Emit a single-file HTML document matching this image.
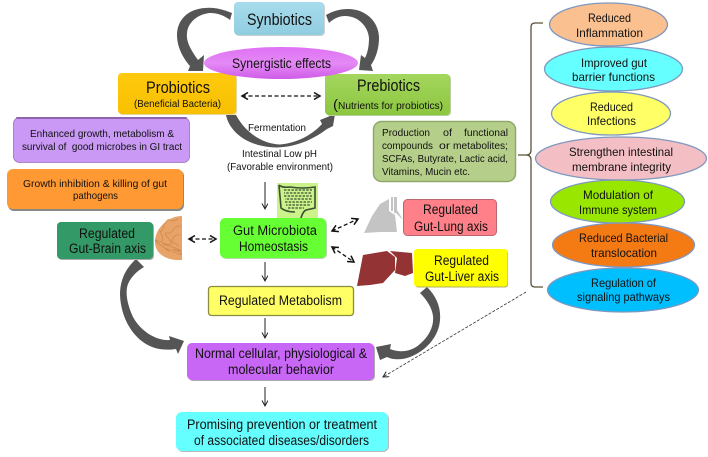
<!DOCTYPE html>
<html><head><meta charset="utf-8"><style>
html,body{margin:0;padding:0;background:#fff;width:708px;height:457px;overflow:hidden}
svg{display:block;filter:blur(.3px)}
text{font-family:"Liberation Sans",sans-serif;fill:#111}
</style></head><body>
<svg width="708" height="457" viewBox="0 0 708 457" xmlns="http://www.w3.org/2000/svg">
<defs>
<linearGradient id="gb" x1="0" y1="0" x2="0" y2="1"><stop offset="0" stop-color="#a8dcec"/><stop offset="1" stop-color="#8fcde0"/></linearGradient>
<linearGradient id="gy" x1="0" y1="0" x2="0" y2="1"><stop offset="0" stop-color="#ffc90e"/><stop offset="1" stop-color="#f7c000"/></linearGradient>
<linearGradient id="gg" x1="0" y1="0" x2="0" y2="1"><stop offset="0" stop-color="#a4d65e"/><stop offset="1" stop-color="#8cc63f"/></linearGradient>
<linearGradient id="gp" x1="0" y1="0" x2="0" y2="1"><stop offset="0" stop-color="#e070f5"/><stop offset=".5" stop-color="#e48af5"/><stop offset="1" stop-color="#cf5ce8"/></linearGradient>
<marker id="t" markerWidth="8" markerHeight="8" refX="6" refY="3" orient="auto-start-reverse" markerUnits="userSpaceOnUse"><path d="M0.500 0 L6 3 L.5 6" fill="none" stroke="#222" stroke-width="1"/></marker>
<marker id="d" markerWidth="9" markerHeight="9" refX="7" refY="4" orient="auto-start-reverse" markerUnits="userSpaceOnUse"><path d="M1 .5 L7 4 L1 7.500" fill="none" stroke="#111" stroke-width="1.500"/></marker>
</defs>

<!-- thick curved arrows -->
<g fill="#555">
<path d="M232 13 C222 9 213 7 205 8 C188 9 177 20 177 35 C177 47 183 58 190 66 L188 71 L203 71 L204 55 L198 60 C191 50 186 42 187 33 C188 22 198 14 210 13 C218 13 225 16 230 20 Z"/>
<path d="M326 15 C333 11 340 9 348 9 C366 9 379 22 379 38 C379 48 376 58 371 65 L373 71 L359 70 L361 55 L365 58 C368 52 369 45 369 38 C368 26 358 16 345 16 C339 16 333 19 329 23 Z"/>
<path d="M226 115 C229 130 245 147 277 147.500 C298 147 315 138 327 129 L333 126 L335 114 L320 120 L322 124 C312 135 297 143 280 144.500 C262 144 245 132 236 115 Z"/>
<path d="M136 259 C124 270 120 282 120 295 C121 320 135 342 155 348 C162 350 170 350 176 349 L178 354 L184 341 L169 336 L170 340 C155 341 140 330 133 317 C127 304 125 292 128 284 C131 277 137 271 144 267 Z"/>
<path d="M427 287 C437 297 441 308 440 320 C439 335 428 350 410 357 C402 360 393 360 387 357 L380 360 L376 347 L391 344 L390 349 C400 353 412 352 421 343 C430 335 434 325 433 316 C432 308 427 300 420 293 Z"/>
</g>

<!-- top boxes -->
<rect x="235" y="3" width="90" height="33" rx="4" fill="#aaa" opacity=".55"/>
<rect x="234" y="2" width="90" height="33" rx="4" fill="url(#gb)"/>
<rect x="119" y="74" width="118" height="41" rx="4" fill="#e0d8a0"/>
<rect x="118" y="73" width="118" height="41" rx="4" fill="url(#gy)"/>
<rect x="326" y="75" width="125" height="41" rx="4" fill="#b9cfa0"/>
<rect x="325" y="74" width="125" height="41" rx="4" fill="url(#gg)"/>
<ellipse cx="281" cy="63" rx="77" ry="16" fill="url(#gp)"/>

<rect x="13.500" y="117.500" width="176" height="45" rx="6" fill="#c999f5" stroke="#9a72bb" stroke-width=".8"/>
<rect x="16" y="117" width="171" height="2" rx="1" fill="#8d64ad"/>
<rect x="8" y="170" width="176" height="41" rx="6" fill="#888"/>
<rect x="7" y="169" width="176" height="40" rx="6" fill="#ff9933"/>
<rect x="373.500" y="121.500" width="142" height="60" rx="8" fill="#b5cf8a" stroke="#8fa96a" stroke-width="1.500"/>

<!-- gut image -->
<rect x="277" y="183" width="41" height="39" fill="#ccf28c"/>
<g fill="none" stroke="#3a5030">
<path d="M279 185 Q282 188 290 187 Q303 189 315 187 L315 208 L306 210 Q302 212 300 222 M279 185 L281 208 Q286 212 295 212" stroke-width="1.600"/>
<g stroke-width="1.300" stroke-dasharray="2.500 1.200">
<path d="M284 190 H312"/><path d="M284 193 H312" stroke-dashoffset="1.500"/><path d="M284 196 H312"/><path d="M285 199 H312" stroke-dashoffset="2"/><path d="M285 202 H312"/><path d="M286 205 H311" stroke-dashoffset="1"/><path d="M288 208 H304"/>
</g>
</g>

<!-- mid boxes -->
<rect x="221" y="219" width="106" height="40" rx="5" fill="#b5d8a8"/>
<rect x="220" y="218" width="106" height="40" rx="5" fill="#66ff33"/>
<rect x="58" y="223" width="96" height="37" rx="4" fill="#aaa"/>
<rect x="57" y="222" width="96" height="37" rx="4" fill="#339966"/>
<path d="M182 216 C168 216 156 228 155 240 C154 252 164 261 182 260 Z" fill="#e8a468"/>
<g fill="none" stroke="#cf8a50" stroke-width=".8"><path d="M178 219 q-5 3 -8 1 t-6 6 t-4 5 t2 5 t-4 5 t4 5 t5 4 t7 2 t4 -2 M181 226 q-6 0 -8 4 t-6 3 t2 6 t-3 5 t6 3 t5 3 t4 2 M180 235 q-5 -1 -7 3 t1 5 t5 3"/></g>

<rect x="208.500" y="286.500" width="145" height="29" rx="3" fill="#ffff66" stroke="#8c8c40" stroke-width="1.300"/>
<rect x="403.500" y="199.500" width="93" height="36" rx="4" fill="#ff8088" stroke="#bb6670" stroke-width="1"/>
<rect x="415" y="250" width="93" height="37.500" rx="3" fill="#b0b060"/>
<rect x="414" y="249" width="93.500" height="37.500" rx="3" fill="#ffff00"/>
<rect x="188" y="344" width="187" height="37" rx="5" fill="#aaa"/>
<rect x="187" y="343" width="187" height="37" rx="5" fill="#c866f5"/>
<rect x="177" y="413" width="212" height="39" rx="6" fill="#bbb"/>
<rect x="176" y="412" width="212" height="39" rx="6" fill="#66ffff"/>

<!-- organs -->
<g fill="#c4c4c4">
<path d="M364 233 L372 216 L380 204 L389 199 L389 211 L395 215 L397 232 L380 232 Z"/>
<path d="M391 197 h2 v14 h-2 Z M394 197 h3 v13 l5 8 v1 l-6 -6 h-2 Z"/>
</g>
<path d="M357 286 L363 255 L387 251 L395 257 L395 270 L383 283 L370 285 Z" fill="#933333"/>
<path d="M390 251 L412 253 L413 273 L405 276 L395 273 L397 258 Z" fill="#933333"/>

<!-- ellipses -->
<g stroke="#7f98bf" stroke-width="1.300">
<ellipse cx="608.500" cy="24.500" rx="59" ry="21.500" fill="#fac090"/>
<ellipse cx="613.500" cy="69" rx="69" ry="22" fill="#66ffff"/>
<ellipse cx="611" cy="113.500" rx="59.500" ry="21.500" fill="#ffff66"/>
<ellipse cx="621" cy="158.500" rx="85.500" ry="21.500" fill="#f4bfc4"/>
<ellipse cx="617.500" cy="201.500" rx="67" ry="21.500" fill="#99e600"/>
<ellipse cx="623.500" cy="245" rx="71" ry="22" fill="#f47a14"/>
<ellipse cx="623" cy="290" rx="75.500" ry="22" fill="#00bfff"/>
</g>

<!-- bracket -->
<path d="M543 23 H535 Q531 23 531 27 V150 Q531 155 526 155 H518 M526 155 Q531 155 531 160 V283 Q531 287 535 287 H543" fill="none" stroke="#5a5238" stroke-width="1.300"/>

<!-- thin arrows -->
<g stroke="#222" stroke-width="1" fill="none">
<path d="M265 182 V209" marker-end="url(#t)"/>
<path d="M265 262 V281" marker-end="url(#t)"/>
<path d="M265 318 V338" marker-end="url(#t)"/>
<path d="M265 387 V406" marker-end="url(#t)"/>
</g>
<path d="M526 292 L383 377" stroke="#333" stroke-width=".8" stroke-dasharray="3 1.500" fill="none" marker-end="url(#t)"/>
<g stroke="#111" stroke-width="1.300" stroke-dasharray="4 2.500" fill="none">
<path d="M242 96 H320" marker-start="url(#d)" marker-end="url(#d)"/>
<path d="M189 239 H216" marker-start="url(#d)" marker-end="url(#d)"/>
<path d="M332 231 L358 219" marker-start="url(#d)" marker-end="url(#d)"/>
<path d="M332 247 L354 262" marker-start="url(#d)" marker-end="url(#d)"/>
</g>

<!-- text -->
<g>
<text x="247" y="25" font-size="17" textLength="65" lengthAdjust="spacingAndGlyphs">Synbiotics</text>
<text x="232" y="68" font-size="13.500" textLength="99" lengthAdjust="spacingAndGlyphs">Synergistic effects</text>
<text x="146" y="93" font-size="17" textLength="64" lengthAdjust="spacingAndGlyphs">Probiotics</text>
<text x="134" y="107" font-size="10.500" textLength="87" lengthAdjust="spacingAndGlyphs">(Beneficial Bacteria)</text>
<text x="357" y="91" font-size="17" textLength="63" lengthAdjust="spacingAndGlyphs">Prebiotics</text>
<text x="333" y="109" font-size="14" textLength="5" lengthAdjust="spacingAndGlyphs">(</text>
<text x="338" y="109" font-size="10.500" textLength="105" lengthAdjust="spacingAndGlyphs">Nutrients for probiotics)</text>
<text x="248" y="131" font-size="10.500" textLength="58" lengthAdjust="spacingAndGlyphs">Fermentation</text>
<text x="242" y="157" font-size="10.500" textLength="75" lengthAdjust="spacingAndGlyphs">Intestinal Low pH</text>
<text x="227" y="170" font-size="10.500" textLength="106" lengthAdjust="spacingAndGlyphs">(Favorable environment)</text>
<text x="30" y="137" font-size="10.500" textLength="144" lengthAdjust="spacingAndGlyphs">Enhanced growth, metabolism &amp;</text>
<text x="22" y="150" font-size="10.500" textLength="160" lengthAdjust="spacingAndGlyphs" xml:space="preserve">survival of  good microbes in GI tract</text>
<text x="23" y="187" font-size="10.500" textLength="144" lengthAdjust="spacingAndGlyphs">Growth inhibition &amp; killing of gut</text>
<text x="73" y="199" font-size="10.500" textLength="45" lengthAdjust="spacingAndGlyphs">pathogens</text>
<text x="79" y="238" font-size="13.500" textLength="56" lengthAdjust="spacingAndGlyphs">Regulated</text>
<text x="69" y="253" font-size="13.500" textLength="77" lengthAdjust="spacingAndGlyphs">Gut-Brain axis</text>
<text x="233" y="235" font-size="13.500" textLength="84" lengthAdjust="spacingAndGlyphs">Gut Microbiota</text>
<text x="239" y="251" font-size="13.500" textLength="69" lengthAdjust="spacingAndGlyphs">Homeostasis</text>
<text x="219" y="305" font-size="13.500" textLength="123" lengthAdjust="spacingAndGlyphs">Regulated Metabolism</text>
<text x="195" y="358" font-size="13.500" textLength="172" lengthAdjust="spacingAndGlyphs">Normal cellular, physiological &amp;</text>
<text x="228" y="374" font-size="13.500" textLength="106" lengthAdjust="spacingAndGlyphs">molecular behavior</text>
<text x="187" y="429" font-size="13.500" textLength="190" lengthAdjust="spacingAndGlyphs">Promising prevention or treatment</text>
<text x="194" y="445" font-size="13.500" textLength="175" lengthAdjust="spacingAndGlyphs">of associated diseases/disorders</text>
<g font-size="10.500">
<text x="382" y="136" textLength="48" lengthAdjust="spacingAndGlyphs">Production</text>
<text x="443" y="136" textLength="9" lengthAdjust="spacingAndGlyphs">of</text>
<text x="464" y="136" textLength="44" lengthAdjust="spacingAndGlyphs">functional</text>
<text x="382" y="149" textLength="51" lengthAdjust="spacingAndGlyphs">compounds</text>
<text x="439" y="149" textLength="11" lengthAdjust="spacingAndGlyphs">or</text>
<text x="453" y="149" textLength="55" lengthAdjust="spacingAndGlyphs">metabolites;</text>
<text x="382" y="162" textLength="126" lengthAdjust="spacingAndGlyphs">SCFAs, Butyrate, Lactic acid,</text>
<text x="382" y="175" textLength="88" lengthAdjust="spacingAndGlyphs">Vitamins, Mucin etc.</text>
</g>
<text x="423" y="214" font-size="13.500" textLength="55" lengthAdjust="spacingAndGlyphs">Regulated</text>
<text x="414" y="231" font-size="13.500" textLength="74" lengthAdjust="spacingAndGlyphs">Gut-Lung axis</text>
<text x="434" y="265" font-size="13.500" textLength="55" lengthAdjust="spacingAndGlyphs">Regulated</text>
<text x="425" y="281" font-size="13.500" textLength="74" lengthAdjust="spacingAndGlyphs">Gut-Liver axis</text>
<g font-size="12">
<text x="588" y="22" textLength="43" lengthAdjust="spacingAndGlyphs">Reduced</text>
<text x="576" y="37" textLength="67" lengthAdjust="spacingAndGlyphs">Inflammation</text>
<text x="581" y="67" textLength="66" lengthAdjust="spacingAndGlyphs">Improved gut</text>
<text x="572" y="81" textLength="83" lengthAdjust="spacingAndGlyphs">barrier functions</text>
<text x="590" y="111" textLength="43" lengthAdjust="spacingAndGlyphs">Reduced</text>
<text x="587" y="125" textLength="49" lengthAdjust="spacingAndGlyphs">Infections</text>
<text x="569" y="156" textLength="104" lengthAdjust="spacingAndGlyphs">Strengthen intestinal</text>
<text x="572" y="171" textLength="99" lengthAdjust="spacingAndGlyphs">membrane integrity</text>
<text x="583" y="199" textLength="70" lengthAdjust="spacingAndGlyphs">Modulation of</text>
<text x="579" y="214" textLength="78" lengthAdjust="spacingAndGlyphs">Immune system</text>
<text x="579" y="242" textLength="89" lengthAdjust="spacingAndGlyphs">Reduced Bacterial</text>
<text x="591" y="257" textLength="66" lengthAdjust="spacingAndGlyphs">translocation</text>
<text x="591" y="287" textLength="65" lengthAdjust="spacingAndGlyphs">Regulation of</text>
<text x="577" y="301" textLength="93" lengthAdjust="spacingAndGlyphs">signaling pathways</text>
</g>
</g>
</svg>
</body></html>
